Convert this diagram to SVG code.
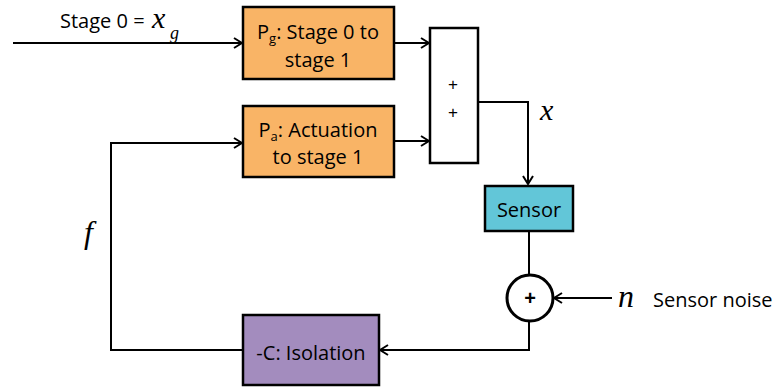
<svg xmlns="http://www.w3.org/2000/svg" width="782" height="387" viewBox="0 0 782 387">
<defs>
<marker id="arr" markerWidth="12" markerHeight="12" viewBox="0 0 12 12" refX="11" refY="6" orient="auto" markerUnits="userSpaceOnUse">
<polyline points="3,1 11,6 3,11" fill="none" stroke="#000" stroke-width="2"/>
</marker>
</defs>
<style>
.box{stroke:#000;stroke-width:2.5}
.t{font-family:"Open Sans","Liberation Sans",sans-serif;font-size:20px;fill:#000}
.m{font-family:"Liberation Serif","DejaVu Serif",serif;font-style:italic;fill:#000}
.c{fill:none;stroke:#000;stroke-width:2}
</style>
<rect width="782" height="387" fill="#fff"/>
<g id="connectors">
<line class="c" x1="13" y1="43" x2="242" y2="43" marker-end="url(#arr)"/>
<line class="c" x1="394" y1="43" x2="429" y2="43" marker-end="url(#arr)"/>
<line class="c" x1="394" y1="141" x2="429" y2="141" marker-end="url(#arr)"/>
<polyline class="c" points="478,102 528,102 528,184" marker-end="url(#arr)"/>
<line class="c" x1="529" y1="231" x2="529" y2="275"/>
<line class="c" x1="612" y1="298" x2="554" y2="298" marker-end="url(#arr)"/>
<polyline class="c" points="529,321 529,350 380,350" marker-end="url(#arr)"/>
<polyline class="c" points="243,350 111,350 111,143 242,143" marker-end="url(#arr)"/>
</g>
<text class="t" x="60" y="28">Stage 0 =</text>
<text class="m" x="152" y="28" font-size="30">x</text>
<text class="m" x="170" y="39" font-size="18">g</text>
<g id="pg">
<rect class="box" x="243" y="7" width="151" height="72" fill="#F9B466"/>
<text class="t" x="318" y="39" text-anchor="middle">P<tspan font-size="13" dy="4">g</tspan><tspan dy="-4">: Stage 0 to</tspan></text>
<text class="t" x="318" y="67" text-anchor="middle">stage 1</text>
</g>
<g id="pa">
<rect class="box" x="243" y="106" width="151" height="71" fill="#F9B466"/>
<text class="t" x="318" y="137" text-anchor="middle">P<tspan font-size="13" dy="4">a</tspan><tspan dy="-4">: Actuation</tspan></text>
<text class="t" x="318" y="164" text-anchor="middle">to stage 1</text>
</g>
<g id="sum">
<rect class="box" x="430" y="28" width="48" height="135" fill="#fff"/>
<text x="453" y="90" text-anchor="middle" font-family="Liberation Sans,sans-serif" font-size="17">+</text>
<text x="453" y="118" text-anchor="middle" font-family="Liberation Sans,sans-serif" font-size="17">+</text>
</g>
<text class="m" x="540" y="120" font-size="30">x</text>
<g id="sensor">
<rect class="box" x="485" y="186" width="88" height="45" fill="#62C6D8"/>
<text class="t" x="529" y="217" text-anchor="middle">Sensor</text>
</g>
<g id="noisesum">
<circle cx="530" cy="298" r="23" fill="#fff" stroke="#000" stroke-width="3"/>
<text x="530" y="305" text-anchor="middle" font-family="Liberation Sans,sans-serif" font-size="20" font-weight="bold">+</text>
</g>
<text class="m" x="618" y="307" font-size="32">n</text>
<text class="t" x="653" y="307">Sensor noise</text>
<g id="iso">
<rect class="box" x="243" y="315" width="136" height="70" fill="#A38CBE"/>
<text class="t" x="311" y="360" text-anchor="middle">-C: Isolation</text>
</g>
<text class="m" x="84" y="243" font-size="32">f</text>
</svg>
